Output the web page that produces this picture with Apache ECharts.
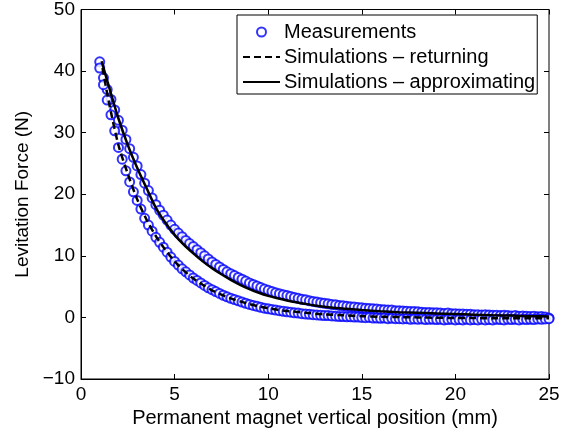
<!DOCTYPE html>
<html>
<head>
<meta charset="utf-8">
<script src="https://cdn.jsdelivr.net/npm/echarts@6/dist/echarts.min.js"></script>
<style>
html, body { margin: 0; padding: 0; background: #fff; }
#chart { width: 575px; height: 434px; }
</style>
</head>
<body>
<div id="chart"></div>
<script>
// measured points (mm), shared by both branches
var measX = [
  1.0, 1.2, 1.4, 1.6, 1.8, 2.0, 2.2, 2.4, 2.6, 2.8,
  3.0, 3.2, 3.4, 3.6, 3.8, 4.0, 4.2, 4.4, 4.6, 4.8,
  5.0, 5.2, 5.4, 5.6, 5.8, 6.0, 6.2, 6.4, 6.6, 6.8,
  7.0, 7.2, 7.4, 7.6, 7.8, 8.0, 8.2, 8.4, 8.6, 8.8,
  9.0, 9.2, 9.4, 9.6, 9.8, 10.0, 10.2, 10.4, 10.6, 10.8,
  11.0, 11.2, 11.4, 11.6, 11.8, 12.0, 12.2, 12.4, 12.6, 12.8,
  13.0, 13.2, 13.4, 13.6, 13.8, 14.0, 14.2, 14.4, 14.6, 14.8,
  15.0, 15.2, 15.4, 15.6, 15.8, 16.0, 16.2, 16.4, 16.6, 16.8,
  17.0, 17.2, 17.4, 17.6, 17.8, 18.0, 18.2, 18.4, 18.6, 18.8,
  19.0, 19.2, 19.4, 19.6, 19.8, 20.0, 20.2, 20.4, 20.6, 20.8,
  21.0, 21.2, 21.4, 21.6, 21.8, 22.0, 22.2, 22.4, 22.6, 22.8,
  23.0, 23.2, 23.4, 23.6, 23.8, 24.0, 24.2, 24.4, 24.6, 24.8,
  25.0
];
// approaching branch (upper)
var measUp = [
  41.5, 38.9, 37.0, 35.4, 33.7, 32.0, 30.4, 28.9, 27.4, 26.0,
  24.6, 23.2, 21.8, 20.6, 19.4, 18.3, 17.4, 16.6, 15.8, 15.0,
  14.3, 13.7, 13.1, 12.5, 12.0, 11.5, 11.0, 10.5, 10.0, 9.5,
  9.0, 8.6, 8.2, 7.8, 7.4, 7.1, 6.8, 6.5, 6.2, 5.9,
  5.6, 5.35, 5.1, 4.85, 4.6, 4.4, 4.2, 4.0, 3.85, 3.7,
  3.55, 3.4, 3.25, 3.1, 2.95, 2.85, 2.7, 2.6, 2.5, 2.4,
  2.3, 2.2, 2.1, 2.05, 1.95, 1.9, 1.8, 1.75, 1.7, 1.6,
  1.55, 1.5, 1.45, 1.4, 1.35, 1.3, 1.25, 1.2, 1.2, 1.1,
  1.1, 1.05, 1.0, 0.95, 0.95, 0.9, 0.85, 0.8, 0.8, 0.75,
  0.75, 0.7, 0.65, 0.7, 0.6, 0.6, 0.55, 0.55, 0.5, 0.5,
  0.45, 0.45, 0.4, 0.45, 0.4, 0.35, 0.35, 0.3, 0.35, 0.3,
  0.25, 0.3, 0.2, 0.25, 0.2, 0.15, 0.2, 0.1, 0.15, 0.05,
  -0.1
];
// returning branch (lower)
var measDown = [
  40.5, 37.8, 35.3, 32.9, 30.3, 27.6, 25.7, 23.8, 22.0, 20.4,
  19.0, 17.6, 16.1, 15.0, 14.0, 13.0, 12.2, 11.4, 10.6, 9.8,
  9.1, 8.5, 7.9, 7.4, 6.9, 6.4, 6.0, 5.6, 5.2, 4.8,
  4.5, 4.2, 3.9, 3.6, 3.35, 3.1, 2.9, 2.7, 2.5, 2.3,
  2.1, 1.95, 1.8, 1.65, 1.5, 1.4, 1.3, 1.2, 1.1, 1.0,
  0.9, 0.85, 0.75, 0.7, 0.6, 0.55, 0.5, 0.45, 0.4, 0.35,
  0.3, 0.3, 0.25, 0.2, 0.15, 0.15, 0.1, 0.1, 0.05, 0.05,
  0.0, -0.05, 0.0, -0.1, -0.1, -0.15, -0.1, -0.2, -0.15, -0.2,
  -0.2, -0.25, -0.2, -0.3, -0.25, -0.3, -0.25, -0.35, -0.3, -0.3,
  -0.35, -0.3, -0.4, -0.35, -0.3, -0.4, -0.35, -0.4, -0.3, -0.4,
  -0.35, -0.4, -0.3, -0.4, -0.35, -0.4, -0.3, -0.35, -0.4, -0.3,
  -0.35, -0.3, -0.4, -0.3, -0.35, -0.3, -0.35, -0.25, -0.3, -0.25,
  -0.2
];

// simulation curves
var approxX = [1.1, 1.5, 2.0, 2.5, 3.0, 3.5, 4.0, 4.5, 5.0, 5.5, 6.0, 6.5, 7.0, 7.5, 8.0, 8.5, 9.0, 9.5, 10.0, 10.5, 11.0, 11.5, 12.0, 12.5, 13.0, 14.0, 15.0, 16.0, 17.0, 18.0, 19.0, 20.0, 21.0, 22.0, 23.0, 24.0, 25.0];
var approxY = [41.6, 37.4, 32.3, 28.0, 24.3, 21.0, 17.8, 15.4, 13.4, 11.8, 10.4, 9.1, 8.0, 7.0, 6.1, 5.3, 4.6, 4.0, 3.5, 3.1, 2.75, 2.45, 2.2, 1.95, 1.75, 1.45, 1.2, 1.0, 0.85, 0.75, 0.65, 0.55, 0.45, 0.35, 0.3, 0.2, 0.15];
var returnX = [1.15, 1.5, 2.0, 2.5, 3.0, 3.5, 4.0, 4.5, 5.0, 5.5, 6.0, 6.5, 7.0, 7.5, 8.0, 8.5, 9.0, 9.5, 10.0, 10.5, 11.0, 11.5, 12.0, 13.0, 14.0, 15.0, 16.0, 17.0, 18.0, 19.0, 20.0, 21.0, 22.0, 23.0, 24.0, 25.0];
var returnY = [40.5, 34.8, 28.0, 23.3, 19.2, 15.9, 13.2, 11.0, 9.1, 7.6, 6.3, 5.3, 4.4, 3.7, 3.1, 2.6, 2.15, 1.8, 1.5, 1.25, 1.05, 0.9, 0.75, 0.5, 0.35, 0.2, 0.1, 0.05, 0.0, -0.05, -0.1, -0.1, -0.15, -0.15, -0.15, -0.15];

var xTicks = {min: 0, max: 25, interval: 5};
var yTicks = {min: -10, max: 50, interval: 10};

function pairs(xs, ys) {
  return xs.map(function (x, i) { return [x, ys[i]]; });
}

var font = 'Liberation Sans, Arial, Helvetica, sans-serif';
var chart = echarts.init(document.getElementById('chart'));

var tickStyle = {show: true, inside: true, length: 5, lineStyle: {color: '#000', width: 1}};

var option = {
  animation: false,
  backgroundColor: '#fff',
  textStyle: {fontFamily: font, color: '#000'},
  grid: {left: 81, right: 26, top: 8, bottom: 55, show: true, borderColor: '#000', borderWidth: 1, containLabel: false},
  legend: {
    orient: 'vertical',
    left: 237,
    top: 15,
    itemWidth: 37,
    itemHeight: 9,
    itemGap: 5,
    padding: [7, 2, 2, 5],
    borderColor: '#000',
    borderWidth: 1,
    borderRadius: 0,
    backgroundColor: '#fff',
    textStyle: {fontSize: 20, color: '#000', fontFamily: font, padding: [0, 0, 0, -1]},
    data: [
      'Measurements',
      {name: 'Simulations \u2013 returning', itemStyle: {opacity: 0}},
      {name: 'Simulations \u2013 approximating', itemStyle: {opacity: 0}}
    ]
  },
  xAxis: [{
    type: 'value',
    min: xTicks.min, max: xTicks.max, interval: xTicks.interval,
    name: 'Permanent magnet vertical position (mm)',
    nameLocation: 'middle',
    nameGap: 27,
    nameTextStyle: {fontSize: 20, color: '#000', fontFamily: font},
    axisLine: {show: true, onZero: false, lineStyle: {color: '#000', width: 1}},
    axisTick: tickStyle,
    axisLabel: {fontSize: 19, color: '#000', margin: 6, fontFamily: font},
    splitLine: {show: false}
  }, {
    type: 'value', position: 'top',
    min: xTicks.min, max: xTicks.max, interval: xTicks.interval,
    axisLine: {show: false, onZero: false},
    axisTick: tickStyle,
    axisLabel: {show: false},
    splitLine: {show: false}
  }],
  yAxis: [{
    type: 'value',
    min: yTicks.min, max: yTicks.max, interval: yTicks.interval,
    name: 'Levitation Force (N)',
    nameLocation: 'middle',
    nameGap: 37,
    nameTextStyle: {fontSize: 19, color: '#000', fontFamily: font},
    axisLine: {show: true, onZero: false, lineStyle: {color: '#000', width: 1}},
    axisTick: tickStyle,
    axisLabel: {
      fontSize: 19, color: '#000', margin: 6, fontFamily: font,
      formatter: function (v) { return v < 0 ? '\u2212' + Math.abs(v) : String(v); }
    },
    splitLine: {show: false}
  }, {
    type: 'value', position: 'right',
    min: yTicks.min, max: yTicks.max, interval: yTicks.interval,
    axisLine: {show: false, onZero: false},
    axisTick: tickStyle,
    axisLabel: {show: false},
    splitLine: {show: false}
  }],
  series: [
    {
      name: 'Measurements',
      type: 'scatter',
      symbol: 'emptyCircle',
      symbolSize: 9,
      itemStyle: {color: '#0000ff', borderColor: '#0000ff', borderWidth: 1.5},
      data: pairs(measX, measUp).concat(pairs(measX, measDown)),
      z: 2
    },
    {
      name: 'Simulations \u2013 returning',
      type: 'line',
      symbol: 'none',
      smooth: 0.3,
      lineStyle: {color: '#000', width: 2.5, type: [7, 4]},
      itemStyle: {color: '#000'},
      data: pairs(returnX, returnY),
      z: 3
    },
    {
      name: 'Simulations \u2013 approximating',
      type: 'line',
      symbol: 'none',
      smooth: 0.3,
      lineStyle: {color: '#000', width: 2.5},
      itemStyle: {color: '#000'},
      data: pairs(approxX, approxY),
      z: 3
    }
  ]
};

chart.setOption(option);
</script>
</body>
</html>
